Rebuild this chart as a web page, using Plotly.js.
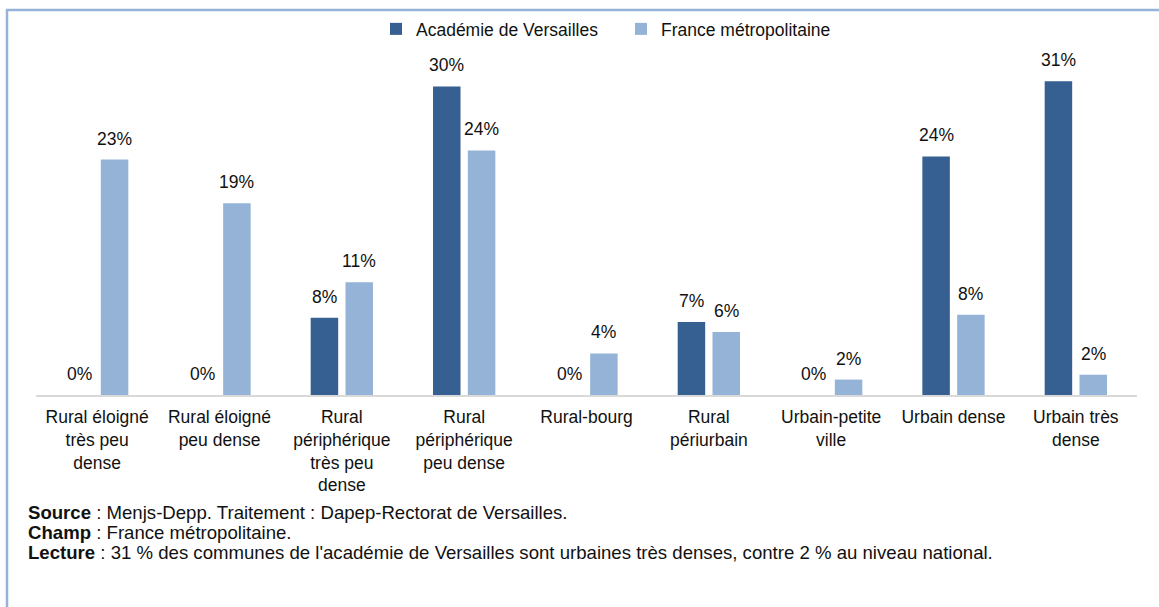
<!DOCTYPE html>
<html>
<head>
<meta charset="utf-8">
<script src="https://cdn.plot.ly/plotly-3.0.1.min.js"></script>
<style>
  html, body { margin: 0; padding: 0; background: #ffffff; }
  #chart { width: 1159px; height: 607px; }
</style>
</head>
<body>
<div id="chart"></div>
<script>
// ---- Data ----
const categories = [
  "Rural éloigné<br>très peu<br>dense",
  "Rural éloigné<br>peu dense",
  "Rural<br>périphérique<br>très peu<br>dense",
  "Rural<br>périphérique<br>peu dense",
  "Rural-bourg",
  "Rural<br>périurbain",
  "Urbain-petite<br>ville",
  "Urbain dense",
  "Urbain très<br>dense"
];
const seriesNames = ["Académie de Versailles", "France métropolitaine"];
const academieValues = [0, 0, 7.6, 30.4, 0, 7.2, 0, 23.5, 30.9];
const franceValues = [23.2, 18.9, 11.1, 24.1, 4.1, 6.2, 1.52, 7.9, 2.0];
const footnotes = [
  "<b>Source</b> : Menjs-Depp. Traitement : Dapep-Rectorat de Versailles.",
  "<b>Champ</b> : France métropolitaine.",
  "<b>Lecture</b> : 31 % des communes de l'académie de Versailles sont urbaines très denses, contre 2 % au niveau national."
];

// ---- Styles ----
const darkBlue = "#376092";
const lightBlue = "#95B3D7";
const borderBlue = "#95B3D7";
const fontFamily = "'Liberation Sans', Arial, sans-serif";
const textColor = "#111111";

const traces = [
  {
    type: "bar", name: seriesNames[0], x: categories, y: academieValues,
    marker: { color: darkBlue }, hoverinfo: "x+y"
  },
  {
    type: "bar", name: seriesNames[1], x: categories, y: franceValues,
    marker: { color: lightBlue }, hoverinfo: "x+y"
  }
];

// value labels above bars
const annotations = [];
const offsets = [-17.4, 17.4];
[academieValues, franceValues].forEach((vals, s) => {
  vals.forEach((v, i) => {
    annotations.push({
      x: categories[i], y: v, xref: "x", yref: "y",
      text: Math.round(v) + "%", showarrow: false,
      xanchor: "center", yanchor: "bottom",
      xshift: offsets[s], yshift: 9,
      font: { family: fontFamily, size: 17.5, color: textColor }
    });
  });
});

// footnotes
const footY = [512.5, 532.5, 552.5];
footnotes.forEach((t, k) => {
  annotations.push({
    xref: "paper", yref: "paper",
    x: (26 - 36) / 1101, y: (395 - footY[k]) / 359,
    xanchor: "left", yanchor: "middle", align: "left",
    text: t, showarrow: false,
    font: { family: fontFamily, size: 18.6, color: textColor }
  });
});

const layout = {
  width: 1159, height: 607,
  margin: { l: 36, r: 22, t: 36, b: 212, pad: 0 },
  paper_bgcolor: "#ffffff", plot_bgcolor: "#ffffff",
  font: { family: fontFamily, size: 17.5, color: textColor },
  barmode: "group",
  bargap: 0.431,
  bargroupgap: 0.21,
  showlegend: true,
  legend: {
    orientation: "h", x: (376 - 36) / 1101, y: 1.0195, xanchor: "left", yanchor: "middle",
    font: { family: fontFamily, size: 17.5, color: textColor },
    itemwidth: 30, entrywidth: 200, bgcolor: "rgba(0,0,0,0)"
  },
  xaxis: {
    type: "category", showgrid: false, zeroline: false,
    showline: true, linecolor: "#d9d9d9", linewidth: 2,
    ticks: "", ticklabelstandoff: 5,
    tickfont: { family: fontFamily, size: 17.5, color: textColor },
    automargin: false, fixedrange: true
  },
  yaxis: {
    range: [0, 35.27], showgrid: false, zeroline: false, showline: false,
    showticklabels: false, ticks: "", fixedrange: true
  },
  annotations: annotations,
  shapes: [
    { type: "line", xref: "paper", yref: "paper",
      x0: (6 - 36) / 1101, x1: (1165 - 36) / 1101,
      y0: (395 - 9) / 359, y1: (395 - 9) / 359,
      line: { color: borderBlue, width: 2.5 } },
    { type: "line", xref: "paper", yref: "paper",
      x0: (7 - 36) / 1101, x1: (7 - 36) / 1101,
      y0: (395 - 8) / 359, y1: (395 - 615) / 359,
      line: { color: borderBlue, width: 2.5 } }
  ]
};

Plotly.newPlot("chart", traces, layout, { displayModeBar: false, staticPlot: true });
</script>
</body>
</html>
